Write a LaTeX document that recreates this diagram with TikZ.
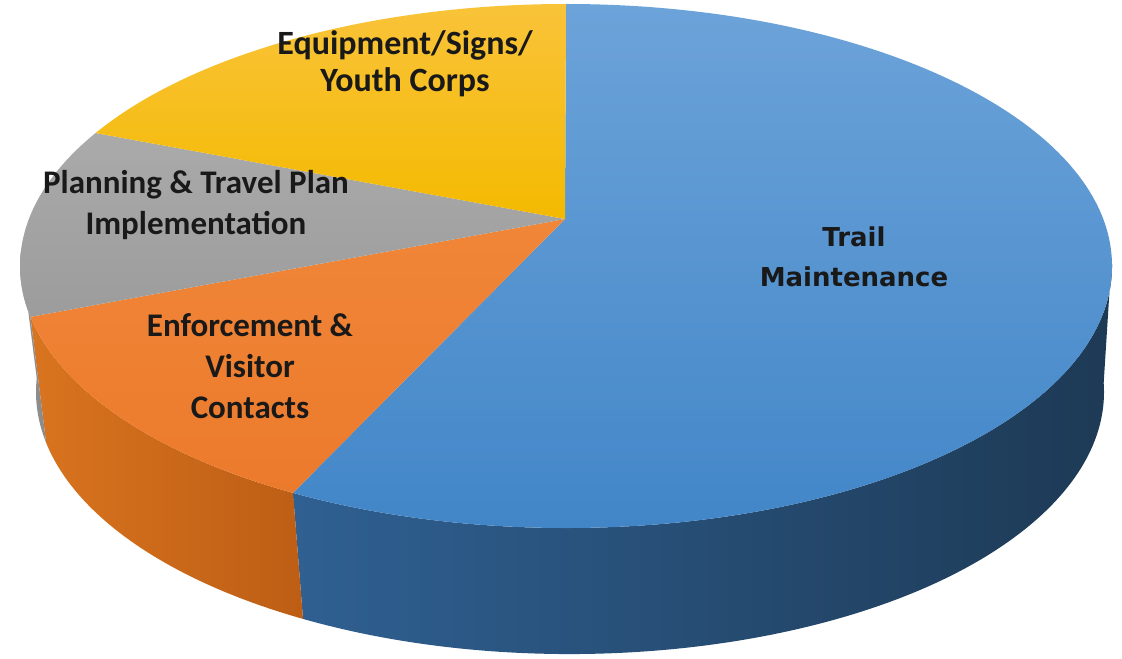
\documentclass[tikz,border=0pt]{standalone}
\usepackage{fontspec}
\setmainfont{Carlito}
\newfontfamily\trailfont{DejaVu Sans}
\usetikzlibrary{calc}
\definecolor{bluetopA}{HTML}{6CA3D9}
\definecolor{bluetopB}{HTML}{4286C8}
\definecolor{ortopA}{HTML}{F08638}
\definecolor{ortopB}{HTML}{EC7A2C}
\definecolor{graytopA}{HTML}{AAAAAA}
\definecolor{graytopB}{HTML}{9C9C9C}
\definecolor{yeltopA}{HTML}{F9C33A}
\definecolor{yeltopB}{HTML}{F4BA00}
\definecolor{bluesideA}{HTML}{2F6092}
\definecolor{bluesideB}{HTML}{1D3954}
\definecolor{orsideA}{HTML}{D9741F}
\definecolor{orsideB}{HTML}{BD5E15}
\definecolor{graysideA}{HTML}{939393}
\definecolor{graysideB}{HTML}{8A8A8A}
\begin{document}
\begin{tikzpicture}[x=0.5pt,y=-0.5pt,
  lbl/.style={font=\bfseries\fontsize{16.5}{20.5}\selectfont,align=center,text=black!90}]
 \useasboundingbox (0,0) rectangle (1122,658);
 \coordinate (apex) at (565,219);
 \coordinate (tc) at (566,266);
 \coordinate (bc) at (570,392);
 % side of the pie
 \foreach \a/\b/\lc/\rc in {-2/120/bluesideA/bluesideB,120/168.8/orsideA/orsideB,168.8/183/graysideA/graysideB}
   \shade[left color=\lc,right color=\rc] ($(tc)+(\a:546 and 262)$) arc[start angle=\a,end angle=\b,x radius=546,y radius=262]
     -- ($(bc)+(\b:534 and 262)$) arc[start angle=\b,end angle=\a,x radius=534,y radius=262] -- cycle;
 % top of the pie
 \foreach \a/\b/\tc/\bc in {-90/120/bluetopA/bluetopB,120/168.8/ortopA/ortopB,168.8/210.5/graytopA/graytopB,210.5/270/yeltopA/yeltopB}
   \shade[top color=\tc,bottom color=\bc] (apex) -- ($(tc)+(\a:546 and 262)$)
     arc[start angle=\a,end angle=\b,x radius=546,y radius=262] -- cycle;
 \node[lbl,font=\bfseries\fontsize{17}{18.5}\selectfont] (equip) at (405,64) {Equipment/Signs/\\Youth Corps};
 \node[lbl] (plan) at (196,205) {Planning \& Travel Plan\\Implementation};
 \node[lbl] (enforce) at (250,366) {Enforcement \&\\Visitor\\Contacts};
 \node[lbl,font=\trailfont\bfseries\fontsize{13}{20}\selectfont] (trail) at (854,257) {Trail\\Maintenance};
\end{tikzpicture}
\end{document}
